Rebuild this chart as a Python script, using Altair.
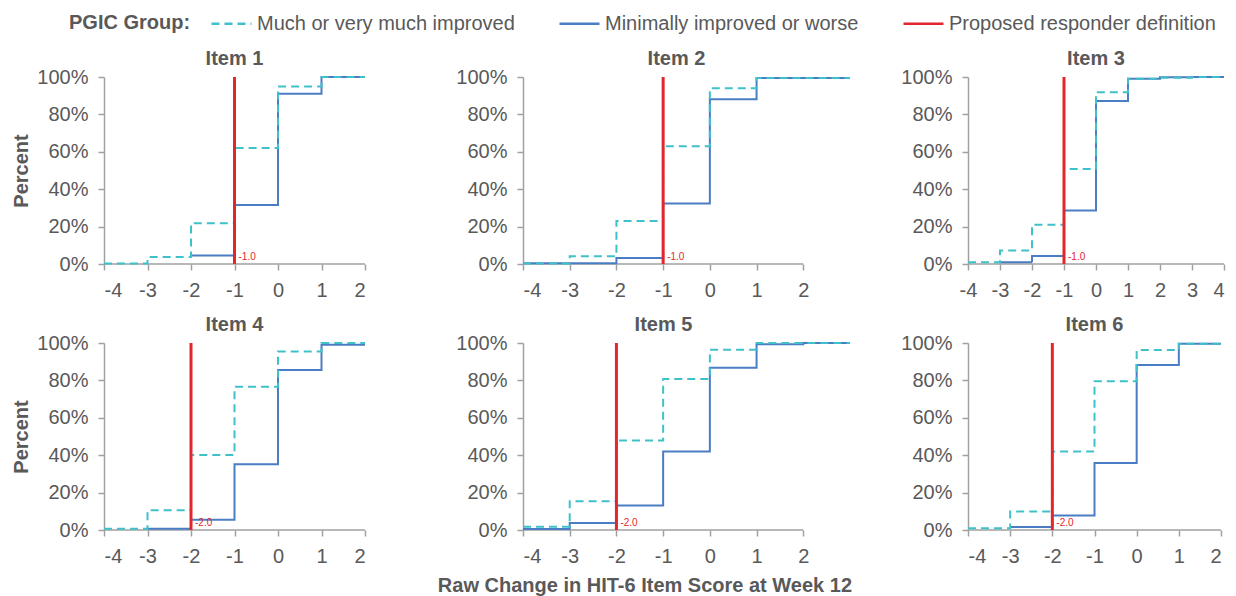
import altair as alt
import pandas as pd

FONT = "Liberation Sans"
TXT = "#595959"
AXIS_COL = "#A0A0A0"

SERIES = ["Much or very much improved", "Minimally improved or worse", "Proposed responder definition"]
COLORS = ["#3EC1C9", "#4A7DC4", "#E3262B"]
DASHES = [[8, 5], [1, 0], [1, 0]]

ITEMS = ["Item 1", "Item 2", "Item 3", "Item 4", "Item 5", "Item 6"]
X_TITLE = "Raw Change in HIT-6 Item Score at Week 12"
X_MIN = -4
X_END = [2, 3, 4, 2, 3, 2]
AXIS_END = [2, 2, 4, 2, 2, 2]
CUTOFF = [-1, -1, -1, -2, -2, -2]
CUTOFF_LABEL = ["-1.0", "-1.0", "-1.0", "-2.0", "-2.0", "-2.0"]

# cumulative percent from x = -4 upward (one value per unit step)
MUCH = [
    [0.3, 3.7, 21.8, 62.0, 94.9, 100.0],
    [0.3, 4.1, 23.0, 63.0, 94.0, 99.5, 99.5],
    [0.9, 7.2, 21.0, 50.8, 91.9, 99.0, 99.6, 100.0],
    [0.7, 10.5, 40.1, 76.6, 95.5, 100.0],
    [1.8, 15.4, 47.8, 80.8, 96.4, 100.0, 100.0],
    [0.9, 9.9, 42.0, 79.6, 96.2, 99.6],
]
MINIMAL = [
    [None, None, 4.6, 31.6, 91.0, 100.0],
    [0.4, 0.4, 3.2, 32.4, 88.1, 99.5, 99.5],
    [None, 0.9, 4.3, 28.6, 87.2, 99.0, 99.8, 100.0],
    [None, 0.7, 5.5, 35.1, 85.6, 99.1],
    [0.5, 3.8, 13.1, 42.0, 86.7, 99.3, 100.0],
    [None, 1.6, 7.8, 35.8, 88.2, 99.6],
]
Y_TICKS = [0, 20, 40, 60, 80, 100]

WIDTHS = [261, 327, 256, 261, 327, 253]
HEIGHT = 187
TITLE_DX = [0, -10, 0, 0, -23, 0]

LEGEND = alt.Legend(
    orient="none", legendX=-35, legendY=-65, direction="horizontal",
    titleOrient="left", titleFontSize=20, titleFontWeight="bold", titleColor=TXT,
    titleFont=FONT, titlePadding=29, titleBaseline="middle", titleAnchor="middle",
    labelFontSize=20, labelColor=TXT, labelFont=FONT, labelOffset=14, labelLimit=400,
    symbolType="M-2,0H2", symbolSize=400, symbolStrokeWidth=2.5, columnPadding=39,
)


def step_rows(vals, series, x_end):
    rows = []
    for k, v in enumerate(vals):
        if v is None:
            continue
        rows.append({"x": X_MIN + k, "pct": v, "series": series})
    rows.append({"x": x_end, "pct": vals[-1], "series": series})
    return rows


def panel(i):
    xscale = alt.Scale(domain=[X_MIN, X_END[i]], nice=False, zero=False)
    yscale = alt.Scale(domain=[0, 100], nice=False)
    color = alt.Color("series:N", scale=alt.Scale(domain=SERIES, range=COLORS),
                      legend=LEGEND, title="PGIC Group:")
    dash = alt.StrokeDash("series:N", scale=alt.Scale(domain=SERIES, range=DASHES),
                          legend=LEGEND, title="PGIC Group:")

    xaxis_kw = dict(values=list(range(X_MIN, AXIS_END[i] + 1)), labelExpr="'' + datum.value",
                    domain=False, title="")
    if i == 2:
        xaxis_kw.update(labelAlign={"condition": {"test": "datum.value == 4", "value": "right"},
                                    "value": "center"})
    yaxis_kw = dict(values=Y_TICKS, labelExpr="datum.value + '%'", title="")
    if i in (0, 3):
        yaxis_kw.update(title="Percent", titleFontSize=20, titleFontWeight="bold",
                        titleColor=TXT, titlePadding=5)
    xaxis = alt.Axis(**xaxis_kw)
    yaxis = alt.Axis(**yaxis_kw)

    def X(field):
        return alt.X(field, scale=xscale, axis=xaxis, title=xaxis_kw["title"])

    def Y(field):
        return alt.Y(field, scale=yscale, axis=yaxis, title=yaxis_kw["title"])

    baseline_df = pd.DataFrame({"x0": [X_MIN], "x1": [AXIS_END[i]], "y": [0]})
    baseline = alt.Chart(baseline_df).mark_rule(color=AXIS_COL, strokeWidth=1.5).encode(
        x=X("x0:Q"), x2="x1:Q", y=Y("y:Q"),
    )

    min_df = pd.DataFrame(step_rows(MINIMAL[i], SERIES[1], X_END[i]))
    much_df = pd.DataFrame(step_rows(MUCH[i], SERIES[0], X_END[i]))

    def line(df):
        return alt.Chart(df).mark_line(interpolate="step-after", strokeWidth=2).encode(
            x=X("x:Q"), y=Y("pct:Q"), color=color, strokeDash=dash,
        )

    cut_df = pd.DataFrame({"x": [CUTOFF[i]], "y0": [0], "y1": [100],
                           "series": [SERIES[2]], "label": [CUTOFF_LABEL[i]]})
    rule = alt.Chart(cut_df).mark_rule(strokeWidth=3).encode(
        x=X("x:Q"), y=Y("y0:Q"), y2="y1:Q", color=color,
    )
    label = alt.Chart(cut_df).mark_text(
        align="left", baseline="bottom", dx=4, dy=-2, fontSize=10, font=FONT, color=COLORS[2]
    ).encode(x=X("x:Q"), y=Y("y0:Q"), text="label:N")

    return alt.layer(baseline, line(min_df), line(much_df), rule, label).properties(
        width=WIDTHS[i], height=HEIGHT,
        title=alt.TitleParams(ITEMS[i], fontSize=20, fontWeight="bold", color=TXT, font=FONT,
                              anchor="middle", offset=-2, dx=TITLE_DX[i]),
    )


p = [panel(i) for i in range(6)]
row1 = alt.hconcat(alt.hconcat(p[0], p[1], spacing=86), p[2], spacing=46)
row2 = alt.hconcat(alt.hconcat(p[3], p[4], spacing=86), p[5], spacing=46)

chart = alt.vconcat(row1, row2, spacing=15).properties(
    padding={"left": 3, "top": 4, "right": 0, "bottom": 0},
    title=alt.TitleParams(X_TITLE, orient="bottom", anchor="middle", fontSize=20,
                          fontWeight="bold", color=TXT, font=FONT, offset=10, dx=25),
).configure_view(stroke=None).configure_axis(
    grid=False, labelFont=FONT, titleFont=FONT, labelFontSize=20, labelColor=TXT,
    domainColor=AXIS_COL, tickColor=AXIS_COL, domainWidth=1.5, tickWidth=1.5, tickSize=6,
).configure_axisX(labelPadding=10).configure_axisY(labelPadding=10)

chart.save("out.html", embed_options={"renderer": "svg", "actions": False})
